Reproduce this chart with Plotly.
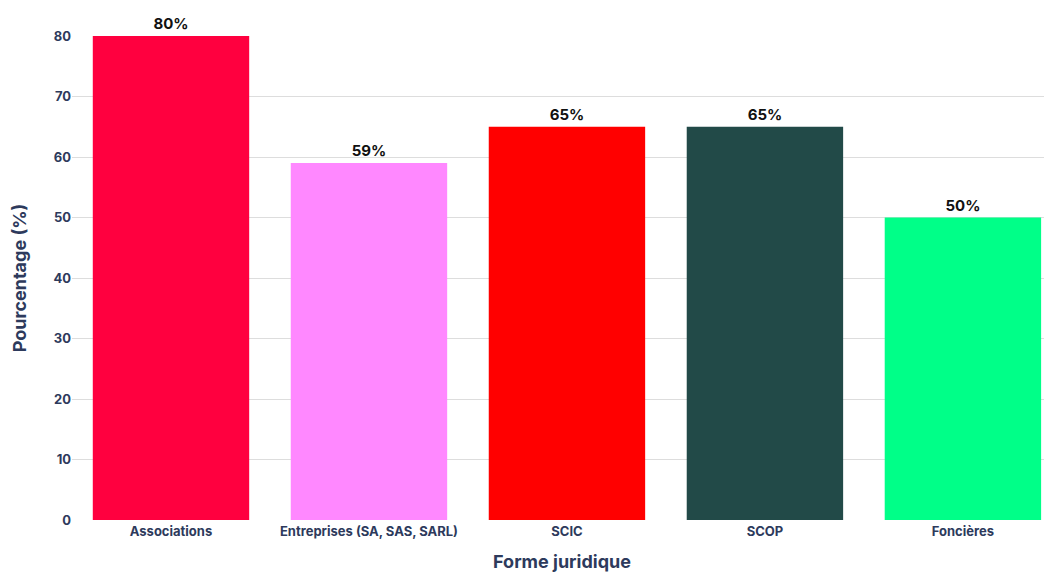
import plotly.graph_objects as go

categories = ["Associations", "Entreprises (SA, SAS, SARL)", "SCIC", "SCOP", "Foncières"]
values = [80, 59, 65, 65, 50]
colors = ["#ff003f", "#ff88ff", "#ff0000", "#224a48", "#00ff88"]
y_ticks = [0, 10, 20, 30, 40, 50, 60, 70, 80]

FONT = "Inter, DejaVu Sans, sans-serif"

fig = go.Figure(go.Bar(
    x=categories, y=values,
    marker=dict(color=colors, line=dict(width=0)),
    text=[f"{v}%" for v in values], textposition="outside",
    textfont=dict(family=FONT, size=15, color="#111111", weight="bold"),
    cliponaxis=False, width=0.79,
))

axis_font = dict(family=FONT, size=13, color="#2d3a5c", weight="bold")
fig.update_layout(
    width=1044, height=564,
    margin=dict(l=64, r=0, t=28, b=52, autoexpand=False),
    plot_bgcolor="white", paper_bgcolor="white",
    showlegend=False,
    xaxis=dict(
        range=[-0.5, 4.45], showgrid=False, showline=False, zeroline=False,
        tickfont=axis_font, ticks="", ticklabelstandoff=2,
        title=dict(text="Forme juridique", standoff=19,
                   font=dict(family=FONT, size=18, color="#2d3a5c", weight="bold")),
    ),
    yaxis=dict(
        range=[0, 80], tickvals=y_ticks, showgrid=True, gridcolor="#dddddd", gridwidth=1,
        zeroline=False, showline=False, tickfont=axis_font, ticks="",
        title=dict(text="Pourcentage (%)", standoff=22,
                   font=dict(family=FONT, size=18, color="#2d3a5c", weight="bold")),
    ),
)

fig.write_html("out.html")
